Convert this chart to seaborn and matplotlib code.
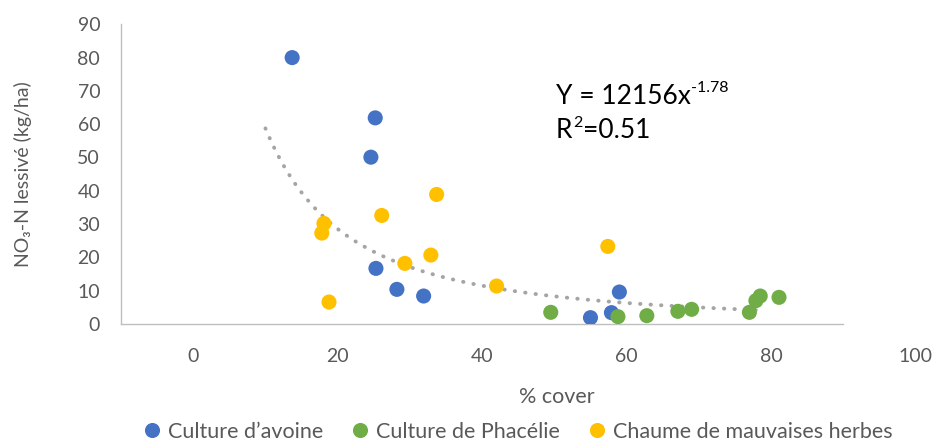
import matplotlib
matplotlib.use("Agg")
import matplotlib.pyplot as plt
import seaborn as sns
import numpy as np
import pandas as pd

# data (x = % cover, y = NO3-N lessivé in kg/ha)
avoine_x = [23.7, 35.2, 34.6, 35.3, 38.2, 41.9, 65.0, 67.9, 69.0]
avoine_y = [80.0, 61.9, 50.1, 16.7, 10.4, 8.4, 1.9, 3.4, 9.6]
phacelie_x = [59.5, 68.8, 72.8, 77.1, 79.0, 87.0, 87.9, 88.5, 91.1]
phacelie_y = [3.5, 2.2, 2.5, 3.8, 4.4, 3.5, 7.0, 8.4, 8.0]
chaume_x = [28.1, 27.8, 28.8, 36.1, 43.7, 39.3, 42.9, 52.0, 67.4]
chaume_y = [30.2, 27.3, 6.6, 32.6, 38.9, 18.2, 20.7, 11.4, 23.3]

series = ["Culture d\u2019avoine", "Culture de Phacélie", "Chaume de mauvaises herbes"]
colors = ["#4472C4", "#70AD47", "#FFC000"]

# power trendline printed on the chart: Y = 12156 x^-1.78
trend_a = 12156
trend_b = -1.78
trend_start, trend_end = 20, 89

x_tick_labels = ["0", "20", "40", "60", "80", "100"]

df = pd.concat([
    pd.DataFrame({"cover": avoine_x, "no3": avoine_y, "serie": series[0]}),
    pd.DataFrame({"cover": phacelie_x, "no3": phacelie_y, "serie": series[1]}),
    pd.DataFrame({"cover": chaume_x, "no3": chaume_y, "serie": series[2]}),
], ignore_index=True)

tx = np.linspace(trend_start, trend_end, 200)
trend = pd.DataFrame({"cover": tx, "no3": trend_a * tx ** trend_b})

sns.set_style("white")
plt.rcParams["font.family"] = ["Lato", "DejaVu Sans"]

grey_txt = "#595959"
axis_col = "#BFBFBF"

fig = plt.figure(figsize=(9.37, 4.42), dpi=100)
ax = fig.add_axes([0.1291, 0.267, 0.7709, 0.678])

sns.lineplot(data=trend, x="cover", y="no3", ax=ax, color="#A5A5A5", lw=2.8,
             linestyle=(0, (0.1, 2.6)), dash_capstyle="round", legend=False, zorder=1)
sns.scatterplot(data=df, x="cover", y="no3", hue="serie", hue_order=series,
                palette=colors, s=118, linewidth=0, ax=ax, zorder=3)

ax.set_xlim(0, 100)
ax.set_ylim(0, 90)
ax.set_yticks(range(0, 91, 10))
ax.set_xticks(range(0, 101, 20))
ax.set_xticklabels([])
ax.tick_params(axis="both", length=5, width=1, color=axis_col, labelsize=14,
               labelcolor=grey_txt, direction="out")
ax.tick_params(axis="y", pad=10)
for side in ["top", "right"]:
    ax.spines[side].set_visible(False)
for side in ["left", "bottom"]:
    ax.spines[side].set_color(axis_col)
    ax.spines[side].set_linewidth(1.0)

# Excel shifted the x labels half a step to the right
trans = matplotlib.transforms.blended_transform_factory(ax.transData, ax.transAxes)
for i, lab in enumerate(x_tick_labels):
    ax.text(10 + 20 * i, -0.109, lab, transform=trans, ha="center", va="center",
            fontsize=14, color=grey_txt, clip_on=False)

ax.set_xlabel("")
ax.text(0.603, -0.245, "% cover", transform=ax.transAxes, ha="center", va="center",
        fontsize=15.5, color=grey_txt)
ax.set_ylabel("NO\u2083-N lessivé (kg/ha)", fontsize=14, color=grey_txt, va="center")
ax.yaxis.set_label_coords(-0.1357, 0.5)

# trendline equation, superscripts as separate small texts
t1 = ax.text(60.2, 66.2, "Y = 12156x", fontsize=19, color="black", va="baseline", ha="left")
ax.annotate("-1.78", xy=(1, 1), xycoords=t1, xytext=(0.3, 1.5), textcoords="offset points",
            fontsize=11.5, color="black", va="top", ha="left")
t2 = ax.text(60.2, 55.9, "R", fontsize=19, color="black", va="baseline", ha="left")
s2 = ax.annotate("2", xy=(1, 1), xycoords=t2, xytext=(0.3, 1.5), textcoords="offset points",
                 fontsize=11.5, color="black", va="top", ha="left")
ax.annotate("=0.51", xy=(1, 0), xycoords=(s2, t2), xytext=(0.3, 0), textcoords="offset points",
            fontsize=19, color="black", va="bottom", ha="left")

sns.move_legend(ax, "center", bbox_to_anchor=(0.553, 0.0233), bbox_transform=fig.transFigure,
                ncol=3, frameon=False, title=None, fontsize=15.5, labelcolor=grey_txt,
                handlelength=0.8, handletextpad=0.35, columnspacing=1.3, borderpad=0)

fig.savefig("out.png", dpi=100)
